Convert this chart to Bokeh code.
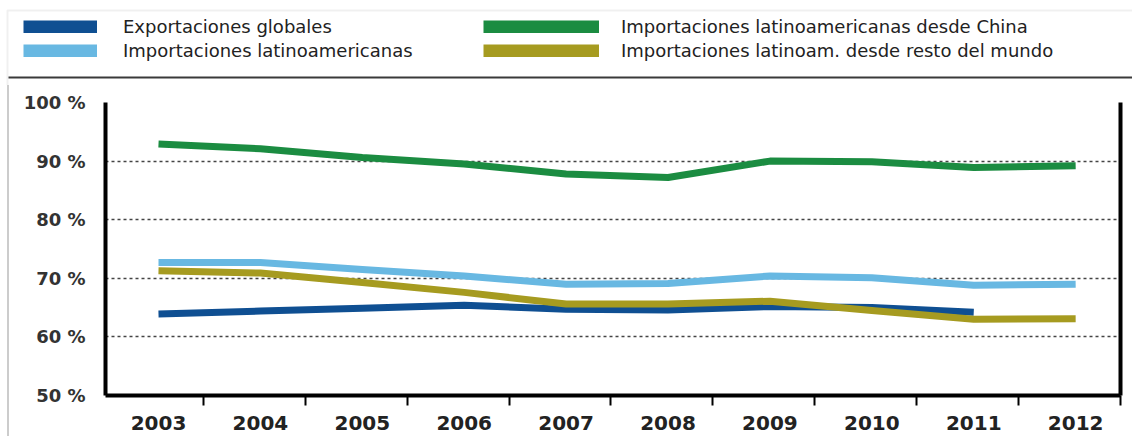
from bokeh.plotting import figure
from bokeh.models import (Range1d, FixedTicker, LinearAxis, Legend, LegendItem,
                          BoxAnnotation, ColumnDataSource)
from bokeh.embed import file_html
from bokeh.resources import INLINE

# Shares (%) by year
years = [2003, 2004, 2005, 2006, 2007, 2008, 2009, 2010, 2011, 2012]
exportaciones_globales = [63.9, 64.4, 64.9, 65.4, 64.7, 64.6, 65.2, 65.0, 64.2]
importaciones_latam = [72.7, 72.7, 71.5, 70.4, 69.0, 69.1, 70.4, 70.1, 68.8, 69.0]
importaciones_china = [92.9, 92.1, 90.6, 89.5, 87.8, 87.2, 90.0, 89.9, 88.9, 89.2]
importaciones_resto = [71.3, 70.9, 69.3, 67.6, 65.6, 65.6, 66.1, 64.5, 63.0, 63.1]

series_names = [
    "Exportaciones globales",
    "Importaciones latinoamericanas",
    "Importaciones latinoamericanas desde China",
    "Importaciones latinoam. desde resto del mundo",
]
series_colors = ["#0f4f92", "#68b8e2", "#1b8c41", "#a69b20"]

y_ticks = [50, 60, 70, 80, 90, 100]
y_tick_labels = ["50 %", "60 %", "70 %", "80 %", "90 %", "100 %"]

W = 1132
HEADER_H = 85
CHART_H = 436 - HEADER_H
PANEL_EDGE = "linear-gradient(to right, white 7px, #cccccc 7px, #cccccc 9px, white 9px)"

# ---------------------------------------------------------------- header
# Strip above the chart holding the two-column legend; its ranges are
# pixel-sized so the decorations can be placed directly.
head = figure(width=W, height=HEADER_H, output_backend="svg", toolbar_location=None,
              x_range=Range1d(0, W), y_range=Range1d(HEADER_H, 0),
              x_axis_location=None, y_axis_location=None,
              min_border=0, min_border_left=0, min_border_right=0,
              min_border_top=0, min_border_bottom=0,
              background_fill_color="white", border_fill_color="white")
head.outline_line_color = None
head.grid.visible = False

# light outer border (top and left) and dark rule under the legend
head.add_layout(BoxAnnotation(left=7, right=W + 10, top=10, bottom=HEADER_H + 10,
                              fill_alpha=0, line_color="#cccccc", line_width=2))
head.add_layout(BoxAnnotation(left=8, right=W + 10, top=76, bottom=78,
                              fill_color="#3a3a3a", fill_alpha=1, line_color=None))

# legend proxies: single-point lines (nothing drawn) that lend their style
swatches = []
for name, color in zip(series_names, series_colors):
    r = head.line(x=[0], y=[0], line_width=13, line_color=color, line_cap="butt")
    swatches.append(LegendItem(label=name, renderers=[r]))


def add_legend(items, x, glyph_width, standoff):
    lg = Legend(items=items, location=(x, HEADER_H - 61),
                glyph_width=glyph_width, glyph_height=13, label_height=20,
                label_standoff=standoff, spacing=3, padding=0, margin=0,
                border_line_color=None, background_fill_alpha=0,
                label_text_font="DejaVu Sans", label_text_font_size="18px",
                label_text_color="#222222")
    head.add_layout(lg, "center")


add_legend([swatches[0], swatches[1]], 23, 74, 26)
add_legend([swatches[2], swatches[3]], 483, 116, 22)

# ---------------------------------------------------------------- chart
FRAME_LEFT = 105
p = figure(width=W, height=CHART_H, output_backend="svg", toolbar_location=None,
           x_range=Range1d(2002.48, 2012.44), y_range=Range1d(50, 100),
           min_border_left=FRAME_LEFT, min_border_right=12,
           min_border_top=102 - HEADER_H, min_border_bottom=41,
           background_fill_color="white", border_fill_alpha=0,
           styles={"background": PANEL_EDGE})
p.outline_line_color = None
p.xgrid.visible = False

# y axis with percent labels
p.yaxis.ticker = FixedTicker(ticks=y_ticks)
p.yaxis.major_label_overrides = dict(zip(y_ticks, y_tick_labels))
p.yaxis.major_tick_line_color = None
p.yaxis.minor_tick_line_color = None
p.yaxis.axis_line_width = 4
p.yaxis.axis_line_color = "black"
p.yaxis.major_label_standoff = 14
p.yaxis.major_label_text_font = "DejaVu Sans"
p.yaxis.major_label_text_font_style = "bold"
p.yaxis.major_label_text_font_size = "18px"
p.yaxis.major_label_text_color = "#333333"

# x axis: year labels centred in each slot, tick marks between years
p.xaxis.ticker = FixedTicker(ticks=years,
                             minor_ticks=[y + 0.44 for y in [years[0] - 1] + years])
p.xaxis.major_tick_line_color = None
p.xaxis.minor_tick_in = 0
p.xaxis.minor_tick_out = 10
p.xaxis.minor_tick_line_width = 2
p.xaxis.minor_tick_line_color = "black"
p.xaxis.axis_line_width = 4
p.xaxis.axis_line_color = "black"
p.xaxis.major_label_standoff = 10
p.xaxis.major_label_text_font = "DejaVu Sans"
p.xaxis.major_label_text_font_style = "bold"
p.xaxis.major_label_text_font_size = "20px"
p.xaxis.major_label_text_color = "#222222"

# dashed horizontal grid
p.ygrid.ticker = FixedTicker(ticks=y_ticks)
p.ygrid.grid_line_color = "#444444"
p.ygrid.grid_line_dash = "3 3"
p.ygrid.grid_line_width = 1.5

# right frame line
right_axis = LinearAxis(ticker=FixedTicker(ticks=[]), axis_line_width=4,
                        axis_line_color="black", major_tick_line_color=None,
                        minor_tick_line_color=None, major_label_text_font_size="0px")
p.add_layout(right_axis, "right")

# data lines
all_series = [exportaciones_globales, importaciones_latam,
              importaciones_china, importaciones_resto]
for vals, color in zip(all_series, series_colors):
    src = ColumnDataSource(dict(x=years[:len(vals)], y=vals))
    p.line("x", "y", source=src, line_width=7, line_color=color,
           line_join="round", line_cap="butt")

# header and chart are separate roots, stacked on the page
open("out.html", "w").write(file_html([head, p], INLINE))
